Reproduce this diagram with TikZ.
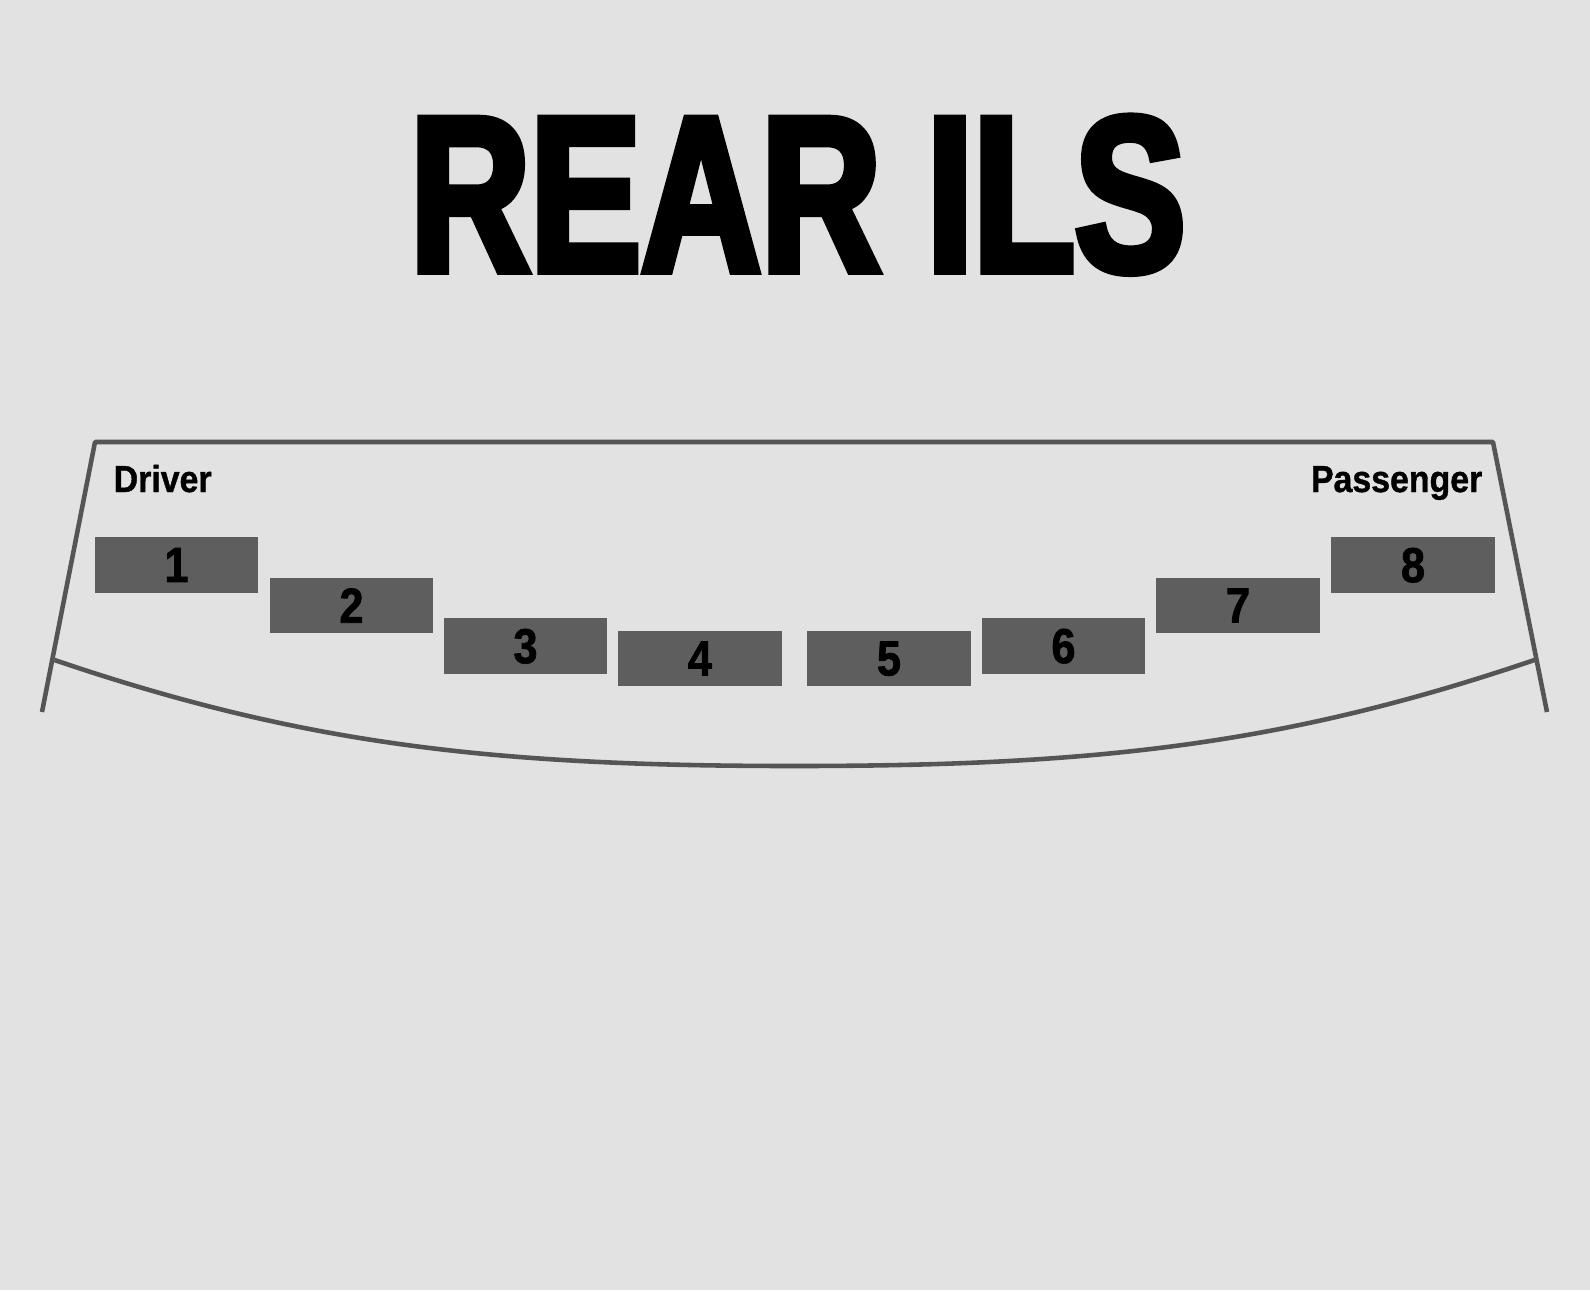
\documentclass[tikz,border=0pt]{standalone}
\usepackage{fontspec}
\newfontfamily\titlefont[FakeStretch=0.75,FakeBold=3.5]{Liberation Sans}
\newfontfamily\labelfont[FakeStretch=0.9,FakeBold=1]{Liberation Sans}
\newfontfamily\numfont[FakeStretch=0.88,FakeBold=1.5]{Liberation Sans}
\definecolor{bggray}{HTML}{E2E2E2}
\definecolor{seatgray}{HTML}{5E5E5E}
\definecolor{linegray}{HTML}{555555}
\tikzset{
	seat/.style={fill=seatgray,minimum width=1.63cm,minimum height=0.55cm,inner sep=0pt,
		font=\numfont\bfseries\fontsize{14}{14}\selectfont},
	side/.style={inner sep=0pt,font=\labelfont\bfseries\fontsize{10.7}{12}\selectfont},
	rim/.style={draw=linegray,line width=1.3pt,line join=round},
}
\begin{document}
\begin{tikzpicture}[x=0.01cm,y=-0.01cm]
		\fill[bggray] (0,0) rectangle (1590,1290);
		\useasboundingbox (0,0) rectangle (1590,1290);
		\node[inner sep=0pt,anchor=base,font=\titlefont\bfseries\fontsize{63}{63}\selectfont] (title) at (798,271) {REAR ILS};
		% outline of the rear
		\coordinate (bl) at (42,712);
		\coordinate (tl) at (95,442);
		\coordinate (tr) at (1493,442);
		\coordinate (br) at (1547,712);
		\coordinate (cl) at (54.5,660);
		\coordinate (cm) at (794.5,766);
		\coordinate (cr) at (1534.5,660);
		\draw[rim] (bl)--(tl)--(tr)--(br);
		\draw[rim] (cl) .. controls (304.5,745) and (494.5,766) .. (cm)
			.. controls (1094.5,766) and (1284.5,745) .. (cr);
		\node[side,anchor=base west] (driver) at (113,492) {Driver};
		\node[side,anchor=base east] (passenger) at (1483,492) {Passenger};
		% sensors
		\foreach \n/\x/\y in {1/176.5/565,2/351.5/605.5,3/525.5/646,4/700/658.5,5/889/658.5,6/1063.5/646,7/1238/605.5,8/1413/565}
			\node[seat,text depth=-0.04cm] (s\n) at (\x,\y) {\n};
	\end{tikzpicture}
\end{document}
